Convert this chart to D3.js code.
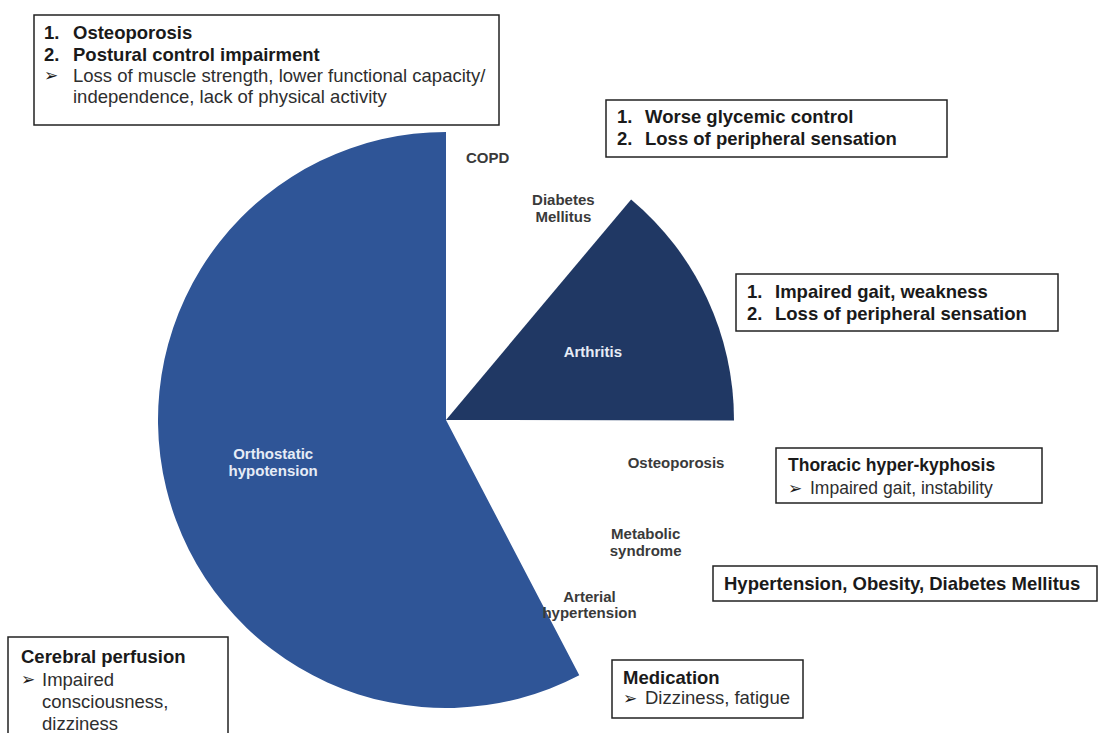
<!DOCTYPE html>
<html>
<head>
<meta charset="utf-8">
<script src="https://cdn.jsdelivr.net/npm/d3@7"></script>
<style>
  body { margin: 0; background: #fff; }
  svg { font-family: Arial, "Liberation Sans", sans-serif; }
</style>
</head>
<body>
<div id="chart"></div>
<script>
// slices, clockwise from 12 o'clock (share of the whole, %)
var categories = ["COPD", "Diabetes\nMellitus", "Arthritis", "Osteoporosis", "Metabolic\nsyndrome", "Arterial\nhypertension", "Orthostatic\nhypotension"];
var values = [5.0, 6.1, 13.9, 5.8, 5.8, 5.7, 57.6];
var shown = [false, false, true, false, false, false, true];

// annotation boxes: [marker, text, bold]; marker " " = indented continuation
var noteFalls = [["1.", "Osteoporosis", true], ["2.", "Postural control impairment", true],
                 ["➢", "Loss of muscle strength, lower functional capacity/", false],
                 [" ", "independence, lack of physical activity", false]];
var noteDiabetes = [["1.", "Worse glycemic control", true], ["2.", "Loss of peripheral sensation", true]];
var noteArthritis = [["1.", "Impaired gait, weakness", true], ["2.", "Loss of peripheral sensation", true]];
var noteKyphosis = [["", "Thoracic hyper-kyphosis", true], ["➢", "Impaired gait, instability", false]];
var noteMetabolic = [["", "Hypertension, Obesity, Diabetes Mellitus", true]];
var notePerfusion = [["", "Cerebral perfusion", true], ["➢", "Impaired", false], [" ", "consciousness,", false], [" ", "dizziness", false]];
var noteMedication = [["", "Medication", true], ["➢", "Dizziness, fatigue", false]];

var width = 1103, height = 733;
var cx = 446, cy = 420, radius = 288;

var svg = d3.select("#chart").append("svg")
    .attr("width", width)
    .attr("height", height);

var data = categories.map(function (c, i) { return {name: c, value: values[i], shown: shown[i]}; });

var pie = d3.pie().sort(null).value(function (d) { return d.value; });
var arcs = pie(data);

var arc = d3.arc().innerRadius(0).outerRadius(radius);
var colors = {"Arthritis": "#203864", "Orthostatic\nhypotension": "#2f5597"};

var g = svg.append("g").attr("transform", "translate(" + cx + "," + cy + ")");

g.selectAll("path")
    .data(arcs.filter(function (d) { return d.data.shown; }))
    .enter().append("path")
    .attr("d", arc)
    .attr("fill", function (d) { return colors[d.data.name]; });

// labels: inside for filled slices, outside for the blank ones
function labelRadius(d, i) {
    if (i === 2) return 162;
    if (d.data.shown) return 178;
    if (i === 0) return 266;
    if (i === 1) return 242;
    return 234;
}

arcs.forEach(function (d, i) {
    var r = labelRadius(d, i);
    var a = (d.startAngle + d.endAngle) / 2;
    var x = r * Math.sin(a), y = -r * Math.cos(a);
    var lines = d.data.name.split("\n");
    var t = g.append("text")
        .attr("text-anchor", "middle")
        .attr("font-size", "15px")
        .attr("font-weight", "bold")
        .attr("fill", d.data.shown ? "#e6ecf6" : "#3a3a3a");
    lines.forEach(function (l, k) {
        t.append("tspan")
            .attr("x", x)
            .attr("y", y + (k - (lines.length - 1) / 2) * 16.5)
            .attr("dy", "0.35em")
            .text(l);
    });
});

// annotation boxes
function note(lines, box) {
    var fs = box.fs || 18.5;
    var b = svg.append("g");
    b.append("rect")
        .attr("x", box.x).attr("y", box.y)
        .attr("width", box.w).attr("height", box.h)
        .attr("fill", "#fff")
        .attr("stroke", "#222")
        .attr("stroke-width", 1.5);
    lines.forEach(function (l, k) {
        var y = box.ty + k * box.lh;
        if (l[0] === "➢") {
            b.append("text")
                .attr("x", box.mx).attr("y", y).attr("dy", "0.35em")
                .attr("font-size", "17px")
                .attr("font-family", "DejaVu Sans")
                .attr("fill", "#1a1a1a")
                .text(l[0]);
        } else if (l[0].trim()) {
            b.append("text")
                .attr("x", box.mx).attr("y", y).attr("dy", "0.35em")
                .attr("font-size", fs + "px")
                .attr("font-weight", "bold")
                .attr("fill", "#1a1a1a")
                .text(l[0]);
        }
        b.append("text")
            .attr("x", l[0] ? box.tx : box.mx).attr("y", y).attr("dy", "0.35em")
            .attr("font-size", fs + "px")
            .attr("font-weight", l[2] ? "bold" : "normal")
            .attr("fill", l[2] ? "#1a1a1a" : "#2e2e2e")
            .text(l[1]);
    });
}

note(noteFalls,      {x: 34,  y: 15,  w: 465, h: 110, mx: 44,  tx: 73,  ty: 33,  lh: 21.2});
note(noteDiabetes,   {x: 606, y: 100, w: 341, h: 57,  mx: 617, tx: 645, ty: 117, lh: 22});
note(noteArthritis,  {x: 736, y: 274, w: 322, h: 57,  mx: 747, tx: 775, ty: 292, lh: 22});
note(noteKyphosis,   {x: 776, y: 448, w: 266, h: 55,  mx: 788, tx: 810, ty: 465, lh: 23, fs: 17.5});
note(noteMetabolic,  {x: 713, y: 566, w: 384, h: 35,  mx: 724, tx: 724, ty: 584, lh: 22});
note(notePerfusion,  {x: 8,   y: 637, w: 220, h: 110, mx: 21,  tx: 42,  ty: 657, lh: 22.2});
note(noteMedication, {x: 612, y: 660, w: 191, h: 58,  mx: 623, tx: 645, ty: 678, lh: 20});
</script>
</body>
</html>
